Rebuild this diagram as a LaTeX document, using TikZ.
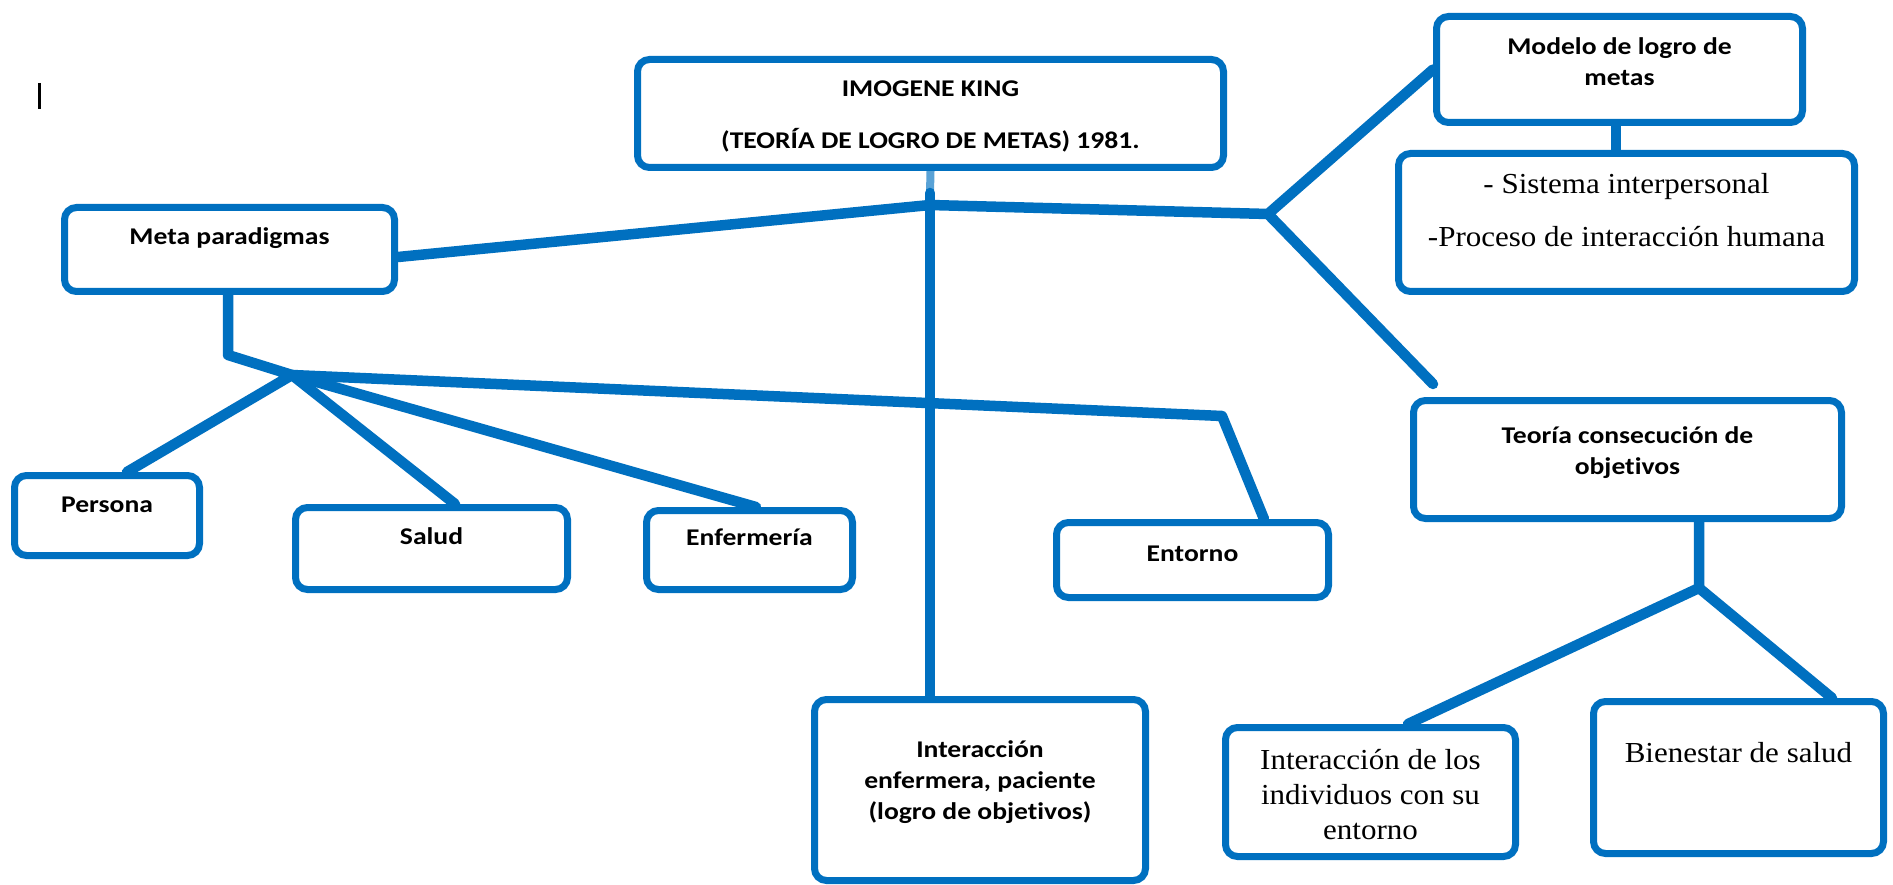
\documentclass[tikz,border=0pt]{standalone}
\usepackage{fontspec}
\setmainfont{Liberation Serif}[FakeStretch=1.07]
\setsansfont{Carlito}[FakeStretch=1.15,Ligatures=NoCommon]
\usetikzlibrary{backgrounds}
\definecolor{kingblue}{HTML}{0070C0}
\newcommand{\boxlines}[1]{\begin{tabular}[t]{@{}c@{}}#1\end{tabular}}

\begin{document}
\begin{tikzpicture}[x=1pt,y=-1pt,
    main node/.style={draw=kingblue,fill=white,line width=7pt,rounded corners=12pt,text height=0pt,font=\sffamily\bfseries\fontsize{24}{31}\selectfont},
    serif node/.style={main node,font=\rmfamily\fontsize{29}{35}\selectfont},
    link/.style={draw=kingblue,line width=10.5pt,line cap=round,line join=round}]
    \useasboundingbox (0,0) rectangle (1893,885);

    \node[main node,minimum width=586pt,minimum height=108pt,text depth=33pt] (1) at (930.5,113.5) {\boxlines{IMOGENE KING\\[21pt](TEORÍA DE LOGRO DE METAS) 1981.}};
    \node[main node,minimum width=330pt,minimum height=84pt,text depth=9pt] (2) at (229.5,249.5) {Meta paradigmas};
    \node[main node,minimum width=366pt,minimum height=106pt,text depth=29pt] (3) at (1619.5,69.5) {\boxlines{Modelo de logro de\\metas}};
    \node[serif node,minimum width=456pt,minimum height=138pt,text depth=57pt] (4) at (1626.5,222.5) {\boxlines{- Sistema interpersonal\\[18pt]-Proceso de interacción humana}};
    \node[main node,minimum width=428pt,minimum height=118pt,text depth=33pt] (5) at (1627.5,459.5) {\boxlines{Teoría consecución de\\objetivos}};
    \node[main node,minimum width=185pt,minimum height=80pt,text depth=7pt] (6) at (107,515.5) {Persona};
    \node[main node,minimum width=272pt,minimum height=82pt,text depth=9pt] (7) at (431.5,548.5) {Salud};
    \node[main node,minimum width=206pt,minimum height=79pt,text depth=10pt] (8) at (749.5,550) {Enfermería};
    \node[main node,minimum width=272pt,minimum height=75pt,text height=2pt,text depth=0pt] (9) at (1192.5,560) {Entorno};
    \node[main node,minimum width=331pt,minimum height=181pt,text depth=66pt] (10) at (980,790) {\boxlines{Interacción\\enfermera, paciente\\(logro de objetivos)}};
    \node[serif node,minimum width=290pt,minimum height=129pt,text depth=46pt] (11) at (1370.5,792) {\boxlines{Interacción de los\\individuos con su\\entorno}};
    \node[serif node,minimum width=290pt,minimum height=152pt,text depth=31pt] (12) at (1738.5,777.5) {Bienestar de salud};

    \draw[line width=3pt] (39,83) -- (39,109);

    \begin{scope}[on background layer]
        \fill[white] (0,0) rectangle (1893,885);
        \coordinate (k) at (930,193);
        \coordinate (c) at (930,205);
        \coordinate (r) at (1268,214);
        \coordinate (m) at (228,355);
        \coordinate (h) at (292,375);
        \coordinate (e) at (1222,416);
        \coordinate (t) at (1699,588);
        \draw[kingblue!65,line width=8pt] (1.south) -- (k);
        \draw[link] (k) -- ([xshift=-50pt]10.north);
        \draw[link] ([yshift=-7.5pt]2.east) -- (c) -- (r) -- (3.west);
        \draw[link] (r) -- ([xshift=-194.5pt,yshift=13pt]5.north);
        \draw[link] (m |- 2.south) -- (m) -- (h) -- ([xshift=20pt]6.north);
        \draw[link] (h) -- ([xshift=23.5pt]7.north);
        \draw[link] (h) -- ([xshift=6.5pt]8.north);
        \draw[link] (h) -- (e) -- ([xshift=71.5pt]9.north);
        \draw[link] ([xshift=-3.5pt]3.south) -- ([xshift=-10.5pt]4.north);
        \draw[link] (t |- 5.south) -- (t) -- ([xshift=37.5pt]11.north);
        \draw[link] (t) -- ([xshift=93.5pt]12.north);
    \end{scope}
\end{tikzpicture}
\end{document}
